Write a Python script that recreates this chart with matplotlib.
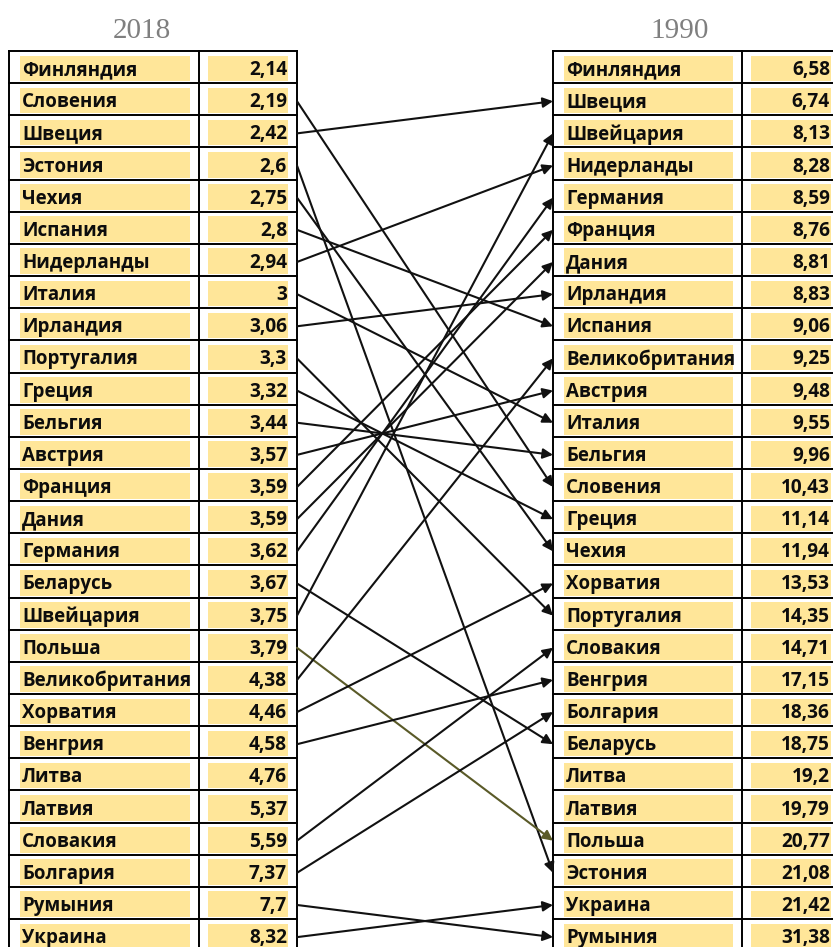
import matplotlib
matplotlib.use('Agg')

import matplotlib.pyplot as plt
from matplotlib.patches import Rectangle

# data
countries_2018 = ['Финляндия', 'Словения', 'Швеция', 'Эстония', 'Чехия', 'Испания',
                  'Нидерланды', 'Италия', 'Ирландия', 'Португалия', 'Греция', 'Бельгия',
                  'Австрия', 'Франция', 'Дания', 'Германия', 'Беларусь', 'Швейцария',
                  'Польша', 'Великобритания', 'Хорватия', 'Венгрия', 'Литва', 'Латвия',
                  'Словакия', 'Болгария', 'Румыния', 'Украина']
values_2018 = [2.14, 2.19, 2.42, 2.6, 2.75, 2.8, 2.94, 3, 3.06, 3.3, 3.32, 3.44, 3.57, 3.59,
               3.59, 3.62, 3.67, 3.75, 3.79, 4.38, 4.46, 4.58, 4.76, 5.37, 5.59, 7.37, 7.7, 8.32]

countries_1990 = ['Финляндия', 'Швеция', 'Швейцария', 'Нидерланды', 'Германия', 'Франция',
                  'Дания', 'Ирландия', 'Испания', 'Великобритания', 'Австрия', 'Италия',
                  'Бельгия', 'Словения', 'Греция', 'Чехия', 'Хорватия', 'Португалия',
                  'Словакия', 'Венгрия', 'Болгария', 'Беларусь', 'Литва', 'Латвия',
                  'Польша', 'Эстония', 'Украина', 'Румыния']
values_1990 = [6.58, 6.74, 8.13, 8.28, 8.59, 8.76, 8.81, 8.83, 9.06, 9.25, 9.48, 9.55, 9.96,
               10.43, 11.14, 11.94, 13.53, 14.35, 14.71, 17.15, 18.36, 18.75, 19.2, 19.79,
               20.77, 21.08, 21.42, 31.38]

highlighted = 'Польша'

# layout (pixel units)
W, H = 833, 947
TOP = 51
ROW = 32.15
FILL = '#ffe699'
FONT = ['Open Sans', 'DejaVu Sans']


def fmt(v):
    return f'{v:g}'.replace('.', ',')


def row_center(i):
    return TOP + ROW * (i + 0.5)


def draw_table(ax, x0, xdiv, x1, names, vals, title, title_x):
    n = len(names)
    for i, (name, v) in enumerate(zip(names, vals)):
        top = TOP + ROW * i
        ax.add_patch(Rectangle((x0 + 11, top + 4.5), xdiv - x0 - 20, ROW - 6.5,
                               color=FILL, lw=0, zorder=1))
        ax.add_patch(Rectangle((xdiv + 9, top + 4.5), x1 - xdiv - 18, ROW - 6.5,
                               color=FILL, lw=0, zorder=1))
        yc = row_center(i) + 3
        ax.text(x0 + 13, yc, name, ha='left', va='center', fontsize=13.5,
                fontweight='bold', family=FONT, color='#0d0d0d', zorder=3)
        ax.text(x1 - 10, yc, fmt(v), ha='right', va='center', fontsize=13.7,
                fontweight='bold', family=FONT, color='#0d0d0d', zorder=3)
    bottom = TOP + ROW * n
    for i in range(n + 1):
        y = TOP + ROW * i
        ax.plot([x0, x1], [y, y], color='black', lw=1.4, zorder=2,
                solid_capstyle='projecting')
    for x in (x0, xdiv, x1):
        ax.plot([x, x], [TOP, bottom], color='black', lw=1.4, zorder=2)
    ax.text(title_x, 31, title, ha='center', va='center', fontsize=21,
            family='Liberation Serif', color='#7f7f7f')


fig = plt.figure(figsize=(W / 100, H / 100), dpi=100)
ax = fig.add_axes([0, 0, 1, 1])
ax.set_xlim(0, W)
ax.set_ylim(H, 0)
ax.axis('off')

left_x0, left_div, left_x1 = 9, 199, 297
right_x0, right_div, right_x1 = 553, 742, 840

draw_table(ax, left_x0, left_div, left_x1, countries_2018, values_2018, '2018', 142)
draw_table(ax, right_x0, right_div, right_x1, countries_1990, values_1990, '1990', 680)

# arrows from 2018 rank to 1990 rank
for i, name in enumerate(countries_2018):
    j = countries_1990.index(name)
    if i == j:
        continue
    color = '#5a5a28' if name == highlighted else '#111111'
    ax.annotate('', xy=(right_x0, row_center(j) + 2), xytext=(left_x1, row_center(i) + 2),
                arrowprops=dict(arrowstyle='-|>', color=color, lw=1.5,
                                mutation_scale=15, shrinkA=0, shrinkB=0),
                zorder=4)

fig.savefig('out.png', dpi=100)
